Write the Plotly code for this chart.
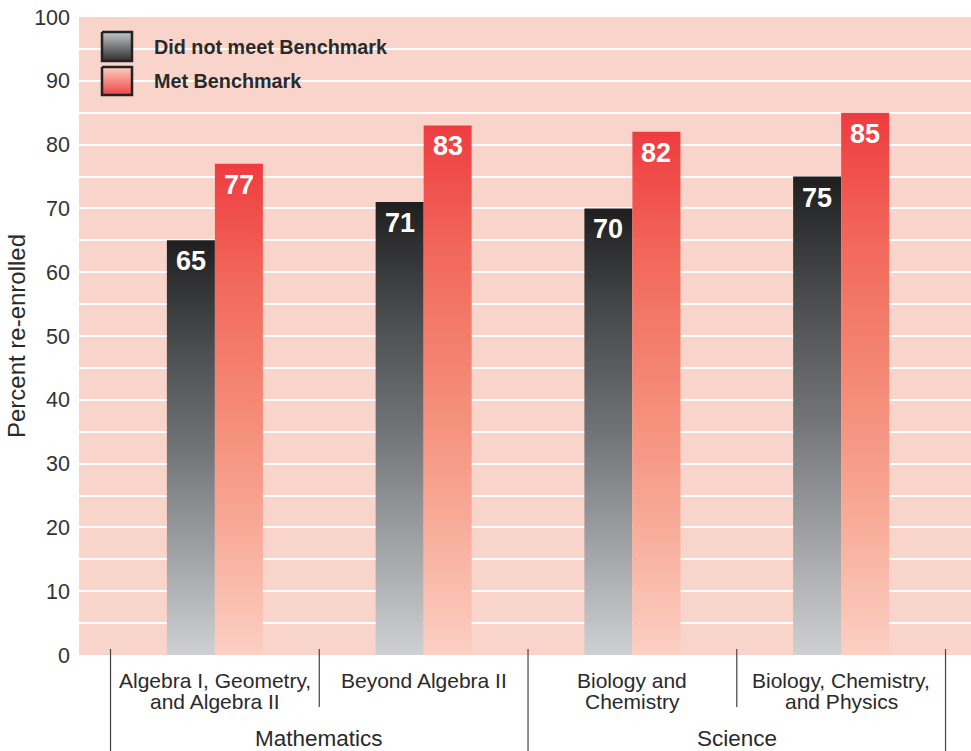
import plotly.graph_objects as go

# ---------------- data ----------------
groups = ["Mathematics", "Science"]
subjects = ["Algebra I, Geometry,<br>and Algebra II", "Beyond Algebra II",
            "Biology and<br>Chemistry", "Biology, Chemistry,<br>and Physics"]
subject_group = [0, 0, 1, 1]
did_not_meet = [65, 71, 70, 75]
met = [77, 83, 82, 85]
series_names = ["Did not meet Benchmark", "Met Benchmark"]
y_ticks = list(range(0, 101, 10))

# ---------------- style ----------------
BG = "#f9d4ca"
DARK_SCALE = [[0, "#cfd0d2"], [0.25, "#a0a1a4"], [0.5, "#727376"],
              [0.75, "#4a4b4d"], [1, "#1f1f20"]]
RED_SCALE = [[0, "#fbd0c3"], [0.25, "#f8ab98"], [0.5, "#f48a76"],
             [0.75, "#f26a5c"], [1, "#ee3c40"]]
TXT = "#2a2a2a"
FONT = "Liberation Sans, Arial, sans-serif"
W = 0.23          # bar width in group units
PLOT_H = 638      # plot-area height in px

fig = go.Figure()

series = [(did_not_meet, DARK_SCALE, -1), (met, RED_SCALE, 0)]
for vals, scale, off in series:
    for i, v in enumerate(vals):
        x0 = i + off * W
        x1 = x0 + W
        fig.add_trace(go.Scatter(
            x=[x0, x0, x1, x1, x0], y=[0, v, v, 0, 0],
            mode="lines", fill="toself",
            line=dict(width=0),
            fillgradient=dict(type="vertical", colorscale=scale),
            hoverinfo="skip", showlegend=False))
        fig.add_annotation(x=x0 + W / 2, y=v, xref="x", yref="y",
                           text=f"<b>{v}</b>", showarrow=False,
                           yanchor="top", yshift=-4,
                           font=dict(family=FONT, size=27, color="white"))

# legend swatches in an overlay pixel-like axis (y2 = pixels down from plot top)
sw_scales = [[[0, "#2e2e2e"], [1, "#c4c6c9"]], [[0, "#ef4446"], [1, "#fbcfc2"]]]
sw_y = [(15, 44), (50, 78)]
for (y0, y1), sc, name in zip(sw_y, sw_scales, series_names):
    fig.add_trace(go.Scatter(
        x=[23, 23, 53, 53, 23], y=[y0, y1, y1, y0, y0],
        xaxis="x2", yaxis="y2", mode="lines", fill="toself",
        line=dict(width=2.5, color="#222222"),
        fillgradient=dict(type="vertical", colorscale=sc),
        hoverinfo="skip", showlegend=False))
    fig.add_annotation(x=73, y=(y0 + y1) / 2, xref="x2", yref="y2",
                       text=f"<b>{name}</b>", showarrow=False,
                       xanchor="left", yanchor="middle",
                       font=dict(family=FONT, size=19.8, color=TXT))

# category labels (one annotation per line for tight line spacing)
for i, s in enumerate(subjects):
    for k, line in enumerate(s.split("<br>")):
        fig.add_annotation(x=i, y=-(25 + 21 * k) / PLOT_H, xref="x", yref="paper",
                           text=line, showarrow=False, yanchor="middle",
                           font=dict(family=FONT, size=21, color=TXT))
for g, name in enumerate(groups):
    idx = [i for i, sg in enumerate(subject_group) if sg == g]
    fig.add_annotation(x=(idx[0] + idx[-1]) / 2, y=-83 / PLOT_H, xref="x", yref="paper",
                       text=name, showarrow=False, yanchor="middle",
                       font=dict(family=FONT, size=22.5, color=TXT))

# dividers
for i in range(len(subjects) + 1):
    xb = i - 0.5
    outer = i == 0 or i == len(subjects) or subject_group[i] != subject_group[i - 1]
    fig.add_shape(type="line", xref="x", yref="paper", x0=xb, x1=xb,
                  y0=6 / PLOT_H, y1=-0.16 if outer else -52 / PLOT_H,
                  line=dict(color="#444444", width=1.2))

fig.update_layout(
    width=971, height=751,
    margin=dict(l=79, r=0, t=17, b=96, autoexpand=False),
    paper_bgcolor="white", plot_bgcolor=BG,
    showlegend=False,
    xaxis=dict(range=[-0.651, 3.622], visible=False, fixedrange=True, automargin=False),
    yaxis=dict(range=[0, 100], tickvals=y_ticks, showgrid=False, zeroline=False,
               ticks="", ticklabelstandoff=8, automargin=False,
               tickfont=dict(family=FONT, size=21.5, color="#333333"),
               minor=dict(dtick=5, showgrid=True, gridcolor="white", gridwidth=2),
               title=dict(text="Percent re-enrolled", standoff=1,
                          font=dict(family=FONT, size=24, color=TXT))),
    xaxis2=dict(range=[0, 892], overlaying="x", visible=False, fixedrange=True),
    yaxis2=dict(range=[PLOT_H, 0], overlaying="y", visible=False, fixedrange=True),
)

# remove the default 8px page margin so the figure fills the window exactly
fig.write_html("out.html", config={"displayModeBar": False},
               post_script="document.body.style.margin='0';document.body.style.overflow='hidden';")
